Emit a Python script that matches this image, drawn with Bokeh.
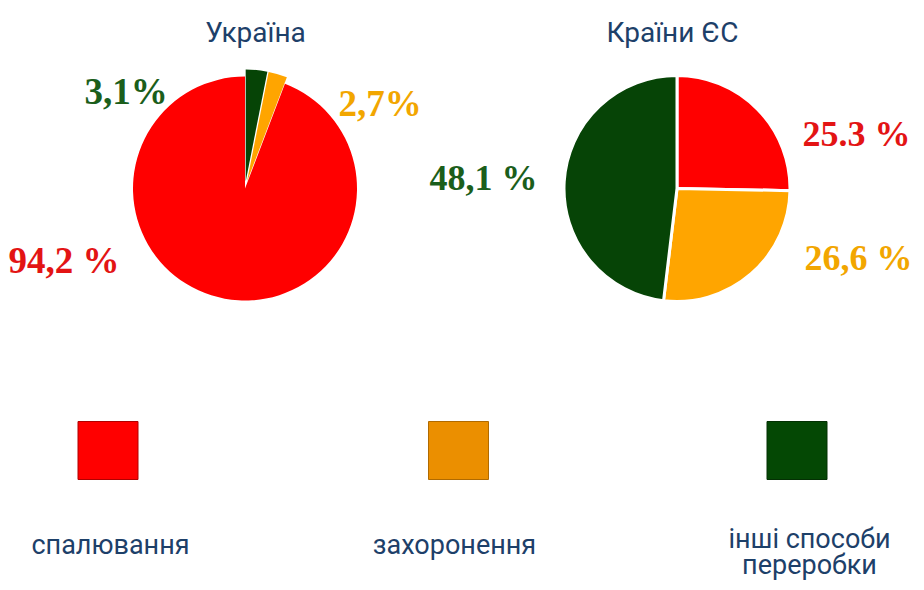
import math
from bokeh.plotting import figure
from bokeh.models import ColumnDataSource, Range1d
from bokeh.core.properties import value
from bokeh.embed import file_html
from bokeh.resources import INLINE

# ---- data ----
categories = ["спалювання", "захоронення", "інші способи переробки"]
ukraine_values = [94.2, 2.7, 3.1]
eu_values = [25.3, 26.6, 48.1]
ukraine_labels = ["94,2 %", "2,7%", "3,1%"]
eu_labels = ["25.3 %", "26,6 %", "48,1 %"]
titles = ["Україна", "Країни ЄС"]
legend_lines = [["спалювання"], ["захоронення"], ["інші способи", "переробки"]]

# ---- styles ----
slice_colors = ["#FF0000", "#FFA500", "#064406"]
legend_colors = ["#FF0000", "#EB8F00", "#044804"]
legend_edges = ["#B00000", "#B06A00", "#033003"]
label_colors = ["#E31414", "#F2A600", "#1B5E1B"]
navy = "#1D4069"

W, H = 916, 582


def fx(X):
    return X


def fy(Y):
    return H - Y


p = figure(width=W, height=H, output_backend="svg", toolbar_location=None,
           x_range=Range1d(0, W), y_range=Range1d(0, H), min_border=0,
           background_fill_color="white", border_fill_color="white")
p.axis.visible = False
p.grid.visible = False
p.outline_line_color = None


def pie(values, order, cx, cy, r, explode, line_color, line_width):
    xs, ys, starts, ends, cols = [], [], [], [], []
    total = sum(values)
    cum = 0.0
    for i in order:
        frac = values[i] / total
        end = math.pi / 2 - 2 * math.pi * cum
        start = end - 2 * math.pi * frac
        mid = (start + end) / 2
        d = explode[i]
        xs.append(cx + d * math.cos(mid))
        ys.append(cy + d * math.sin(mid))
        starts.append(start)
        ends.append(end)
        cols.append(slice_colors[i])
        cum += frac
    src = ColumnDataSource(dict(x=xs, y=ys, s=starts, e=ends, c=cols))
    p.wedge(x="x", y="y", radius=r, start_angle="s", end_angle="e",
            direction="anticlock", fill_color="c", line_color=line_color,
            line_width=line_width, source=src)


# Ukraine pie: clockwise from top: other, landfill, incineration
pie(ukraine_values, [2, 1, 0], fx(244.5), fy(188), 112, [0, 7, 7], None, 0)
# EU pie: clockwise from top: incineration, landfill, other
pie(eu_values, [0, 1, 2], fx(676.5), fy(188), 113, [0, 0, 0], "white", 3)


# percentage labels
def labels(texts, xs, ys, size):
    src = ColumnDataSource(dict(x=[fx(v) for v in xs], y=[fy(v) for v in ys],
                                t=texts, c=label_colors))
    p.text(x="x", y="y", text="t", text_color="c", source=src,
           text_font=value("Liberation Serif"), text_font_style="bold",
           text_font_size=size, text_align="left", text_baseline="alphabetic")


labels(ukraine_labels, [8, 338, 84], [260, 103, 91], "37px")
labels(eu_labels, [802, 804, 429], [133, 257, 177], "36px")

# titles
p.text(x=[fx(255), fx(672)], y=[fy(32), fy(32)], text=titles,
       text_color=navy, text_font=value("Roboto"), text_font_size="28px",
       text_align="center", text_baseline="alphabetic")

# legend squares
p.rect(x=[fx(107.5), fx(458), fx(796.5)], y=[fy(450)] * 3, width=60, height=58,
       fill_color=legend_colors, line_color=legend_edges, line_width=1)

# legend labels
lx, ly, lt = [], [], []
centers = [110, 454, 809]
first_baselines = [544, 544, 538]
for c, b, lines in zip(centers, first_baselines, legend_lines):
    for k, line in enumerate(lines):
        lx.append(fx(c))
        ly.append(fy(b + 26 * k))
        lt.append(line)
p.text(x=lx, y=ly, text=lt, text_color=navy, text_font=value("Roboto"),
       text_font_size="27px", text_align="center", text_baseline="alphabetic")

open("out.html", "w").write(file_html(p, INLINE))
